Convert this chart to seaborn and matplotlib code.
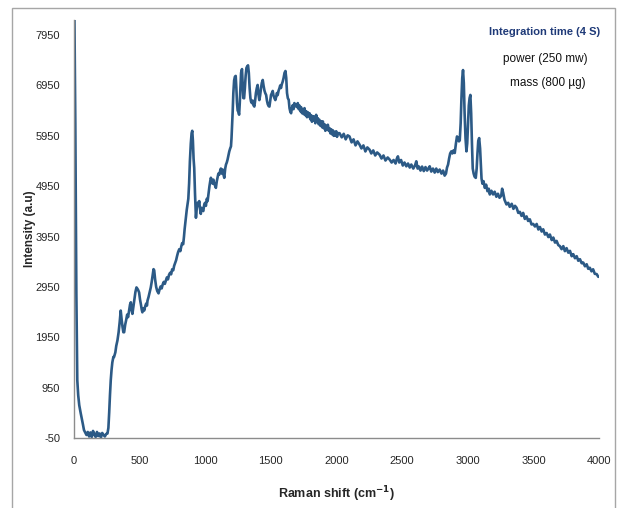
import matplotlib
matplotlib.use("Agg")
import matplotlib.pyplot as plt
import numpy as np
import pandas as pd
import seaborn as sns
from matplotlib.patches import Rectangle

# Raman spectrum (shift in cm-1, intensity in a.u.)
shift_low = [3, 10, 18, 25, 32, 40, 51, 60, 68, 76, 85, 95, 105, 115, 125, 135, 145, 155,
             165, 175, 185, 195, 205, 215, 225, 235, 245, 255, 262, 268, 274, 280, 286, 292, 300]
int_low = [8400, 6200, 2800, 1100, 800, 600, 444, 330, 220, 108, 60, 10, 70, -20, 60, -30, 90, 20,
           -30, 70, -10, 40, -40, 50, 10, -20, 30, 40, 150, 450, 800, 1096, 1300, 1450, 1560]

shift_mid = [305, 315, 322, 331, 340, 348, 356, 363, 370, 376, 382, 390, 398, 405, 412, 420, 427, 433,
             439, 445, 452, 460, 468, 476, 484, 490, 496, 503, 510, 516, 521, 528, 535, 542, 550, 556,
             560, 568, 576, 585, 592, 600, 606, 611, 618, 626, 634, 644, 652, 660, 668, 676, 684, 692,
             700, 708, 716, 724, 732, 740, 748, 756, 763, 770, 778, 785, 793, 802, 810, 817, 824, 832,
             838, 843, 847, 853, 859, 865, 871, 877, 883, 890, 896, 901, 906, 911, 916, 922, 929, 935,
             941, 947, 954, 960, 966, 972, 978, 985, 992, 998, 1005, 1012, 1018, 1025, 1032, 1038, 1043,
             1050, 1056, 1062, 1068, 1075, 1081, 1088, 1094, 1100, 1107, 1113, 1119, 1126, 1132, 1139,
             1145, 1152, 1158, 1164, 1170, 1177, 1183, 1190, 1196]
int_mid = [1557, 1650, 1780, 1887, 2050, 2250, 2480, 2300, 2150, 2050, 2050, 2200, 2300, 2400, 2350,
           2480, 2600, 2644, 2500, 2415, 2550, 2700, 2850, 2940, 2910, 2880, 2840, 2700, 2600, 2500,
           2446, 2520, 2480, 2560, 2620, 2580, 2677, 2750, 2840, 2940, 3050, 3200, 3303, 3280, 3100,
           2950, 2870, 2822, 2900, 2960, 2920, 3000, 3050, 3010, 3073, 3140, 3100, 3190, 3230, 3200,
           3300, 3280, 3369, 3420, 3480, 3560, 3640, 3699, 3660, 3750, 3820, 3798, 3950, 4100, 4193,
           4350, 4480, 4588, 4700, 5000, 5444, 5800, 6003, 6050, 5850, 5500, 5313, 4800, 4323, 4500,
           4620, 4560, 4654, 4500, 4400, 4520, 4480, 4456, 4580, 4620, 4560, 4700, 4654, 4800, 4950,
           5050, 5117, 5050, 5000, 5080, 5000, 4960, 4917, 5050, 5120, 5200, 5181, 5250, 5300, 5200,
           5280, 5180, 5116, 5300, 5380, 5420, 5478, 5560, 5640, 5700, 5741]

shift_top = [1200, 1205, 1209, 1214, 1220, 1226, 1232, 1237, 1242, 1247, 1252, 1258, 1263, 1268, 1273,
             1280, 1285, 1290, 1296, 1302, 1308, 1314, 1320, 1326, 1332, 1338, 1344, 1349, 1355, 1361,
             1367, 1374, 1380, 1386, 1393, 1399, 1405, 1412, 1418, 1425, 1431, 1438, 1444, 1451, 1457,
             1464, 1470, 1476, 1483, 1489, 1495, 1501, 1508, 1514, 1520, 1527, 1534, 1540, 1546, 1552,
             1559, 1565, 1571, 1577, 1584, 1590, 1597, 1604, 1611, 1617, 1623, 1629, 1636, 1642, 1648,
             1654, 1660, 1667, 1673, 1679, 1686, 1692, 1699, 1705, 1712, 1718, 1724, 1730, 1737, 1743,
             1750, 1756, 1762, 1769, 1775, 1781, 1788, 1794, 1800, 1807, 1813, 1820, 1826, 1832, 1839,
             1845, 1852, 1858, 1864, 1870, 1877, 1883, 1890, 1896, 1903, 1909, 1915, 1922, 1928, 1934,
             1941, 1947, 1953, 1960, 1966, 1972, 1979, 1985, 1991, 1998, 2004, 2010]
int_top = [5900, 6200, 6432, 6800, 7050, 7124, 7140, 6900, 6600, 6450, 6432, 6370, 6600, 6900, 7200,
           7275, 7000, 6700, 6696, 6900, 7150, 7300, 7330, 7350, 7200, 6900, 6700, 6630, 6600, 6650,
           6560, 6531, 6650, 6800, 6900, 6960, 6780, 6660, 6750, 6900, 7000, 7059, 6950, 6850, 6800,
           6760, 6650, 6580, 6540, 6531, 6650, 6760, 6800, 6841, 6750, 6700, 6660, 6720, 6800, 6760,
           6850, 6893, 6950, 6900, 6980, 7025, 7100, 7200, 7237, 7100, 6800, 6700, 6663, 6500, 6430,
           6399, 6500, 6560, 6480, 6600, 6540, 6578, 6520, 6600, 6480, 6550, 6440, 6520, 6400, 6466,
           6380, 6500, 6360, 6440, 6320, 6420, 6340, 6400, 6280, 6360, 6230, 6340, 6260, 6330, 6200,
           6367, 6240, 6300, 6180, 6268, 6150, 6240, 6120, 6236, 6100, 6180, 6050, 6150, 6080, 6170,
           6050, 6102, 6000, 6080, 5980, 6060, 5950, 6030, 5960, 6040, 5930, 6003]

shift_high = [2023, 2040, 2055, 2070, 2085, 2099, 2115, 2130, 2145, 2160, 2176, 2190, 2205, 2220, 2235,
              2252, 2265, 2280, 2295, 2310, 2328, 2343, 2358, 2373, 2390, 2405, 2420, 2435, 2450, 2460,
              2468, 2478, 2492, 2505, 2518, 2532, 2545, 2558, 2570, 2585, 2598, 2608, 2618, 2628, 2640,
              2652, 2665, 2678, 2690, 2700, 2710, 2722, 2735, 2748, 2760, 2772, 2786, 2800, 2812, 2824,
              2834, 2842, 2850, 2858, 2866, 2875, 2883, 2891, 2901, 2910, 2918, 2926, 2933, 2939, 2946,
              2952, 2958, 2964, 2970, 2976, 2983, 2990, 2996, 3002, 3008, 3014, 3020, 3026, 3032, 3038,
              3045, 3052, 3061, 3068, 3074, 3080, 3087, 3094, 3100, 3105, 3112, 3120, 3130, 3140, 3150,
              3160, 3168, 3180, 3193, 3205, 3218, 3230, 3242, 3255, 3262, 3270, 3280, 3295, 3308, 3320,
              3335, 3348, 3360, 3372, 3385, 3397, 3410, 3422, 3435, 3448, 3460, 3473, 3486, 3499, 3512,
              3525, 3538, 3550, 3563, 3575, 3588, 3601, 3614, 3626, 3640, 3652, 3665, 3677, 3690, 3702,
              3715, 3728, 3740, 3753, 3766, 3779, 3792, 3804, 3817, 3830, 3842, 3855, 3868, 3880, 3893,
              3906, 3918, 3930, 3943, 3955, 3968, 3982, 3995]
int_high = [6003, 5920, 5990, 5880, 5960, 5938, 5820, 5880, 5760, 5840, 5774, 5700, 5760, 5640, 5720,
            5675, 5600, 5660, 5560, 5620, 5576, 5500, 5560, 5460, 5520, 5478, 5420, 5470, 5400, 5500,
            5543, 5420, 5470, 5360, 5420, 5345, 5400, 5320, 5380, 5300, 5360, 5444, 5300, 5340, 5260,
            5340, 5250, 5330, 5260, 5300, 5345, 5240, 5300, 5220, 5300, 5230, 5280, 5200, 5260, 5160,
            5200, 5320, 5379, 5500, 5600, 5642, 5600, 5660, 5610, 5800, 5938, 5900, 5840, 5860, 6200,
            6700, 7100, 7256, 7000, 6400, 5900, 5642, 5800, 6200, 6550, 6700, 6762, 6400, 5800, 5300,
            5200, 5140, 5115, 5300, 5600, 5850, 5905, 5700, 5350, 5100, 5000, 5050, 4917, 4980, 4850,
            4900, 4786, 4860, 4786, 4840, 4740, 4800, 4720, 4760, 4900, 4818, 4680, 4588, 4620, 4540,
            4600, 4500, 4560, 4522, 4420, 4440, 4360, 4420, 4300, 4350, 4260, 4292, 4190, 4200, 4150,
            4200, 4090, 4140, 4050, 4094, 3990, 4020, 3940, 3990, 3880, 3930, 3830, 3863, 3780, 3760,
            3700, 3760, 3660, 3720, 3630, 3666, 3560, 3600, 3520, 3560, 3470, 3500, 3420, 3434, 3360,
            3400, 3310, 3330, 3260, 3300, 3210, 3205, 3150]

y_ticks = [-50, 950, 1950, 2950, 3950, 4950, 5950, 6950, 7950]
x_ticks = [0, 500, 1000, 1500, 2000, 2500, 3000, 3500, 4000]

df = pd.DataFrame({
    "shift": shift_low + shift_mid + shift_top + shift_high,
    "intensity": int_low + int_mid + int_top + int_high,
})

sns.set_style("white")
plt.rcParams["font.family"] = ["Liberation Sans", "DejaVu Sans"]
plt.rcParams["axes.unicode_minus"] = False

fig = plt.figure(figsize=(6.2, 5.08), dpi=100)
ax = fig.add_axes([74 / 620, 1 - 438 / 508, 525 / 620, 418 / 508])

sns.lineplot(data=df, x="shift", y="intensity", ax=ax, sort=False,
             color="#2C5A86", linewidth=1.9)

ax.set_xlim(0, 4000)
ax.set_ylim(-50, 8250)
ax.set_xticks(x_ticks)
ax.set_yticks(y_ticks)
ax.tick_params(axis="both", direction="out", length=4, width=0.8, color="#555555",
               labelsize=8, pad=6)
ax.tick_params(axis="x", pad=9)
for sp in ["top", "right"]:
    ax.spines[sp].set_visible(False)
for sp in ["left", "bottom"]:
    ax.spines[sp].set_color("#8C8C8C")
    ax.spines[sp].set_linewidth(1.0)

ax.set_xlabel(r"Raman shift (cm$^{\mathbf{-1}}$)", fontsize=9, fontweight="bold")
ax.xaxis.set_label_coords(0.5, -46 / 418)
ax.set_ylabel("Intensity (a.u)", fontsize=8.5, fontweight="bold")
ax.yaxis.set_label_coords(-38 / 525, 0.5)

# annotation block
fig.text(545 / 620, 1 - 32 / 508, "Integration time (4 S)", ha="center", va="center",
         fontsize=8, fontweight="bold", color="#1F3A78")
fig.text(545 / 620, 1 - 59 / 508, "power (250 mw)", ha="center", va="center",
         fontsize=8.5, color="#111111")
fig.text(548 / 620, 1 - 83 / 508, "mass (800 µg)", ha="center", va="center",
         fontsize=8.5, color="#111111")

# outer chart border
fig.patches.append(Rectangle((12 / 620, -0.05), 603 / 620, 1.05 - 8 / 508,
                             transform=fig.transFigure, fill=False,
                             edgecolor="#A6A6A6", linewidth=1.0))

fig.savefig("out.png", dpi=100)
